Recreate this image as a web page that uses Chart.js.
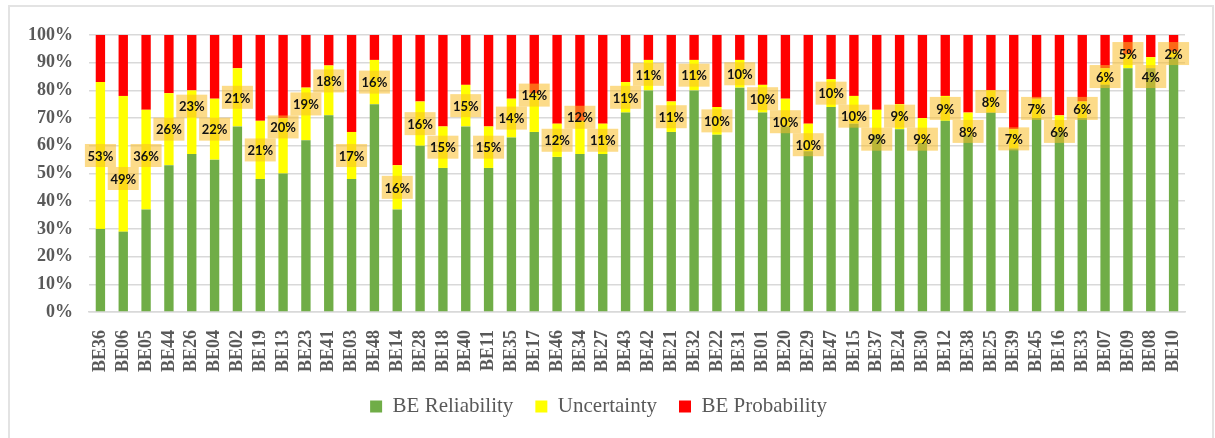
<!DOCTYPE html>
<html>
<head>
<meta charset="utf-8">
<script src="https://cdn.jsdelivr.net/npm/chart.js@4/dist/chart.umd.min.js"></script>
<style>
  body { margin: 0; background: #fff; }
  #wrap { position: relative; width: 1215px; height: 438px; overflow: hidden; }
  #frame { position: absolute; left: 8px; top: 5px; width: 1202px; height: 460px; border: 2px solid #e3e3e3; }
  #chart { position: absolute; left: 0; top: 0; }
</style>
</head>
<body>
<div id="wrap">
  <div id="frame"></div>
  <canvas id="chart" width="1215" height="438"></canvas>
</div>
<script>
// Buildings, ordered as in the figure
const categories = ['BE36', 'BE06', 'BE05', 'BE44', 'BE26', 'BE04', 'BE02', 'BE19', 'BE13', 'BE23', 'BE41', 'BE03',
    'BE48', 'BE14', 'BE28', 'BE18', 'BE40', 'BE11', 'BE35', 'BE17', 'BE46', 'BE34', 'BE27', 'BE43',
    'BE42', 'BE21', 'BE32', 'BE22', 'BE31', 'BE01', 'BE20', 'BE29', 'BE47', 'BE15', 'BE37', 'BE24',
    'BE30', 'BE12', 'BE38', 'BE25', 'BE39', 'BE45', 'BE16', 'BE33', 'BE07', 'BE09', 'BE08', 'BE10'];

const reliability = [30, 29, 37, 53, 57, 55, 67, 48, 50, 62, 71, 48,
    75, 37, 60, 52, 67, 52, 63, 65, 56, 57, 57, 72,
    80, 65, 80, 64, 81, 72, 67, 58, 74, 68, 64, 66,
    61, 69, 64, 72, 59, 70, 65, 70, 82, 88, 88, 92];

const uncertainty = [53, 49, 36, 26, 23, 22, 21, 21, 20, 19, 18, 17,
    16, 16, 16, 15, 15, 15, 14, 14, 12, 12, 11, 11,
    11, 11, 11, 10, 10, 10, 10, 10, 10, 10, 9, 9,
    9, 9, 8, 8, 7, 7, 6, 6, 6, 5, 4, 2];

const probability = [17, 22, 27, 21, 20, 23, 12, 31, 30, 19, 11, 35,
    9, 47, 24, 33, 18, 33, 23, 21, 32, 31, 32, 17,
    9, 24, 9, 26, 9, 18, 23, 32, 16, 22, 27, 25,
    30, 22, 28, 20, 34, 23, 29, 24, 12, 7, 8, 6];

const yTicks = [0, 10, 20, 30, 40, 50, 60, 70, 80, 90, 100];

const greyText = '#595959';
const serif = '"Liberation Serif", "Times New Roman", serif';

// percentage boxes on the uncertainty segments
const uncertaintyLabels = {
    id: 'uncertaintyLabels',
    afterDatasetsDraw(chart) {
        const meta = chart.getDatasetMeta(1);
        const ctx = chart.ctx;
        const boxW = 31, boxH = 23;
        let prevY = null;
        ctx.save();
        ctx.font = 'bold 13px Lato, "Open Sans", sans-serif';
        ctx.textAlign = 'center';
        ctx.textBaseline = 'middle';
        meta.data.forEach((bar, i) => {
            let cy = (bar.y + bar.base) / 2;
            if (prevY !== null && Math.abs(cy - prevY) < boxH) {
                cy = cy < prevY ? prevY - boxH : prevY + boxH;
            }
            prevY = cy;
            ctx.fillStyle = 'rgba(250, 190, 40, 0.55)';
            ctx.fillRect(bar.x - boxW / 2, cy - boxH / 2, boxW, boxH);
            ctx.fillStyle = '#111';
            ctx.fillText(uncertainty[i] + '%', bar.x, cy + 1);
        });
        ctx.restore();
    }
};

const ctx = document.getElementById('chart').getContext('2d');
const chart = new Chart(ctx, {
    type: 'bar',
    data: {
        labels: categories,
        datasets: [
            { label: 'BE Reliability', data: reliability, backgroundColor: '#70AD47' },
            { label: 'Uncertainty', data: uncertainty, backgroundColor: '#FFFF00' },
            { label: 'BE Probability', data: probability, backgroundColor: '#FF0000' }
        ]
    },
    options: {
        responsive: false,
        animation: false,
        categoryPercentage: 1,
        barPercentage: 0.41,
        layout: { padding: { left: 12, right: 30, top: 35, bottom: 11 } },
        plugins: {
            tooltip: { enabled: false },
            legend: {
                position: 'bottom',
                labels: {
                    boxWidth: 12,
                    boxHeight: 12,
                    padding: 22,
                    color: greyText,
                    font: { family: serif, size: 21 }
                }
            }
        },
        scales: {
            x: {
                stacked: true,
                grid: { display: false },
                border: { color: '#d9d9d9', width: 1.5 },
                ticks: {
                    autoSkip: false,
                    minRotation: 90,
                    maxRotation: 90,
                    padding: 10,
                    color: greyText,
                    font: { family: serif, size: 18, weight: 'bold' }
                },
                afterFit(scale) { scale.height = 62; }
            },
            y: {
                stacked: true,
                min: 0,
                max: 100,
                afterBuildTicks(scale) { scale.ticks = yTicks.map(v => ({ value: v })); },
                grid: { color: '#d9d9d9', lineWidth: 1.5, drawTicks: false },
                border: { display: false },
                ticks: {
                    padding: 16,
                    color: greyText,
                    font: { family: serif, size: 18, weight: 'bold' },
                    callback: v => v + '%'
                }
            }
        }
    },
    plugins: [uncertaintyLabels]
});
</script>
</body>
</html>
